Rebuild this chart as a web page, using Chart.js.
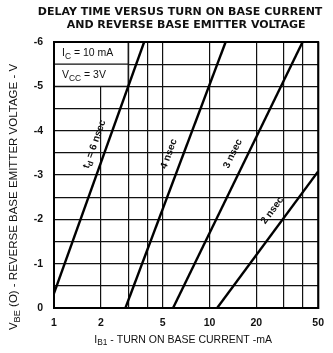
<!DOCTYPE html>
<html>
<head>
  <title>Delay Time vs Turn On Base Current</title>
  <script src="https://cdn.jsdelivr.net/npm/chart.js"></script>
  <style>
    body { margin: 0; background: #fff; }
  </style>
</head>
<body>
  <canvas id="delayChart" width="333" height="353"></canvas>

  <script>
    // curve data: turn on base current (mA) vs reverse base emitter voltage (V)
    const td6Current = [1.0, 3.8];
    const td6Voltage = [-0.33, -6.0];
    const td4Current = [2.88, 12.7];
    const td4Voltage = [0, -6.0];
    const td3Current = [5.83, 39.7];
    const td3Voltage = [0, -6.0];
    const td2Current = [11.2, 50];
    const td2Voltage = [0, -3.08];

    // axis ticks
    const xGridTicks = [1, 2, 3, 4, 5, 10, 20, 30, 40, 50];
    const xLabelTicks = [1, 2, 5, 10, 20, 50];
    const yLabelTicks = [0, -1, -2, -3, -4, -5, -6];

    const titleLines = ['DELAY TIME VERSUS TURN ON BASE CURRENT', 'AND REVERSE BASE EMITTER VOLTAGE'];

    function pts(xs, ys) {
      return xs.map((x, i) => ({ x: x, y: ys[i] }));
    }

    // draw text made of parts, some of them subscripts
    function drawParts(ctx, parts, x, y, size, weight, align) {
      let total = 0;
      parts.forEach(p => {
        ctx.font = weight + ' ' + (p.sub ? size * 0.8 : size) + 'px "Liberation Sans", Arial, sans-serif';
        p.w = ctx.measureText(p.t).width;
        total += p.w;
      });
      let cx = align === 'center' ? x - total / 2 : x;
      parts.forEach(p => {
        ctx.font = weight + ' ' + (p.sub ? size * 0.8 : size) + 'px "Liberation Sans", Arial, sans-serif';
        ctx.fillText(p.t, cx, p.sub ? y + size * 0.3 : y);
        cx += p.w;
      });
    }

    const datasets = [
      { label: '6 nsec', data: pts(td6Current, td6Voltage) },
      { label: '4 nsec', data: pts(td4Current, td4Voltage) },
      { label: '3 nsec', data: pts(td3Current, td3Voltage) },
      { label: '2 nsec', data: pts(td2Current, td2Voltage) }
    ].map(d => Object.assign(d, {
      borderColor: '#000', borderWidth: 2.4, pointRadius: 0, fill: false, tension: 0
    }));

    // label text and anchor (data coords) for each curve
    const curveLabels = [
      { parts: [{ t: 't' }, { t: 'd', sub: true }, { t: ' = 6 nsec' }], at: [1.9, -3.67], ds: 0 },
      { parts: [{ t: '4 nsec' }], at: [5.72, -3.45], ds: 1 },
      { parts: [{ t: '3 nsec' }], at: [14.7, -3.45], ds: 2 },
      { parts: [{ t: '2 nsec' }], at: [26.3, -2.16], ds: 3 }
    ];

    const decorPlugin = {
      id: 'decor',
      beforeDatasetsDraw(chart) {
        const ctx = chart.ctx, xs = chart.scales.x, ys = chart.scales.y;
        // conditions box in the upper left corner
        const l = xs.getPixelForValue(1), r = xs.getPixelForValue(3);
        const t = ys.getPixelForValue(-6), b = ys.getPixelForValue(-5), m = ys.getPixelForValue(-5.5);
        ctx.save();
        ctx.fillStyle = '#fff';
        ctx.fillRect(l, t, r - l, b - t);
        ctx.strokeStyle = '#111';
        ctx.lineWidth = 1.2;
        ctx.beginPath();
        ctx.rect(l, t, r - l, b - t);
        ctx.moveTo(l, m); ctx.lineTo(r, m);
        ctx.stroke();
        ctx.fillStyle = '#111';
        ctx.textBaseline = 'middle';
        drawParts(ctx, [{ t: 'I' }, { t: 'C', sub: true }, { t: ' = 10 mA' }], l + 8, (t + m) / 2, 10.5, 'normal', 'left');
        drawParts(ctx, [{ t: 'V' }, { t: 'CC', sub: true }, { t: ' = 3V' }], l + 8, (m + b) / 2, 10.5, 'normal', 'left');
        ctx.restore();
      },
      afterDraw(chart) {
        const ctx = chart.ctx, xs = chart.scales.x, ys = chart.scales.y, a = chart.chartArea;
        ctx.save();
        // plot frame
        ctx.strokeStyle = '#000';
        ctx.lineWidth = 2;
        ctx.strokeRect(a.left, a.top, a.right - a.left, a.bottom - a.top);

        // curve labels rotated along their lines, set just left of them
        ctx.fillStyle = '#111';
        ctx.textBaseline = 'middle';
        curveLabels.forEach(lb => {
          const d = chart.data.datasets[lb.ds].data;
          const x0 = xs.getPixelForValue(d[0].x), y0 = ys.getPixelForValue(d[0].y);
          const x1 = xs.getPixelForValue(d[1].x), y1 = ys.getPixelForValue(d[1].y);
          const ang = Math.atan2(y1 - y0, x1 - x0);
          ctx.save();
          ctx.translate(xs.getPixelForValue(lb.at[0]), ys.getPixelForValue(lb.at[1]));
          ctx.rotate(ang);
          drawParts(ctx, lb.parts, 0, -3, 10, 'bold', 'center');
          ctx.restore();
        });

        // title
        ctx.textAlign = 'center';
        ctx.textBaseline = 'middle';
        ctx.font = 'bold 11px "DejaVu Sans", sans-serif';
        const cx = (a.left + a.right) / 2 - 3;
        ctx.fillText(titleLines[0], cx - 3, 12);
        ctx.fillText(titleLines[1], cx + 3, 25);

        // x axis title
        ctx.textAlign = 'left';
        drawParts(ctx, [{ t: 'I' }, { t: 'B1', sub: true }, { t: ' - TURN ON BASE CURRENT -mA' }], cx, 340, 10.5, 'normal', 'center');

        // y axis title
        ctx.save();
        ctx.translate(14, (a.top + a.bottom) / 2 + 22);
        ctx.rotate(-Math.PI / 2);
        drawParts(ctx, [{ t: 'V' }, { t: 'BE', sub: true }, { t: ' (O) - REVERSE BASE EMITTER VOLTAGE - V' }], 0, 0, 11.5, 'normal', 'center');
        ctx.restore();
        ctx.restore();
      }
    };

    new Chart(document.getElementById('delayChart'), {
      type: 'line',
      data: { datasets: datasets },
      plugins: [decorPlugin],
      options: {
        responsive: false,
        animation: false,
        devicePixelRatio: 1,
        layout: { padding: { top: 42, right: 10, left: 0, bottom: 0 } },
        plugins: { legend: { display: false }, tooltip: { enabled: false }, title: { display: false } },
        scales: {
          x: {
            type: 'logarithmic',
            min: 1,
            max: 50,
            afterBuildTicks: s => { s.ticks = xGridTicks.map(v => ({ value: v })); },
            afterFit: s => { s.height = 45; },
            grid: { color: '#111', lineWidth: 1.2, drawTicks: false },
            border: { color: '#000', width: 2 },
            ticks: {
              color: '#111',
              padding: 9,
              maxRotation: 0,
              autoSkip: false,
              font: { family: '"Liberation Sans", Arial, sans-serif', size: 10.5, weight: 'bold' },
              callback: v => xLabelTicks.includes(v) ? String(v) : ''
            }
          },
          y: {
            type: 'linear',
            min: -6,
            max: 0,
            reverse: true,
            afterFit: s => { s.width = 54; },
            grid: { color: '#111', lineWidth: 1.2, drawTicks: false },
            border: { color: '#000', width: 2 },
            ticks: {
              stepSize: 0.5,
              color: '#111',
              padding: 11,
              font: { family: '"Liberation Sans", Arial, sans-serif', size: 10.5, weight: 'bold' },
              callback: v => yLabelTicks.includes(v) ? String(v) : ''
            }
          }
        }
      }
    });
  </script>
</body>
</html>
